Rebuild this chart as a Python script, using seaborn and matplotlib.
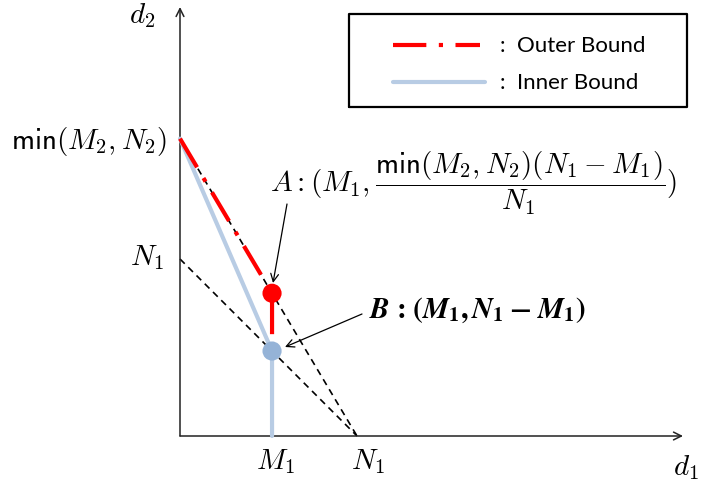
import numpy as np
import pandas as pd
import matplotlib
matplotlib.use("Agg")
import matplotlib.pyplot as plt
import seaborn as sns

# schematic values (same unit on both axes)
M1 = 2.6
N1 = 5.0
MIN_MN = 8.4
A_y = MIN_MN * (N1 - M1) / N1
B_y = N1 - M1

outer_x = [0, M1, M1]
outer_y = [MIN_MN, A_y, B_y]
inner_x = [0, M1, M1]
inner_y = [MIN_MN, B_y, 0]
guide1_x = [0, N1]
guide1_y = [MIN_MN, 0]
guide2_x = [0, N1]
guide2_y = [N1, 0]
pts = pd.DataFrame({"x": [M1, M1], "y": [A_y, B_y], "name": ["A", "B"]})

sns.set_style("white")
plt.rcParams["font.family"] = ["Lato", "DejaVu Sans"]
plt.rcParams["mathtext.fontset"] = "cm"
plt.rcParams["text.color"] = "black"

RED = "#ff0000"
BLUE_LINE = "#b8cce4"
BLUE_DOT = "#95b3d7"
DASHDOT = (0, (8, 3, 1, 3))

fig = plt.figure(figsize=(7.02, 4.85), dpi=100)
ax = fig.add_axes([0, 0, 1, 1])
px = 35.4  # pixels per unit
ax.set_xlim(-180 / px, (702 - 180) / px)
ax.set_ylim(-(485 - 437) / px, 437 / px)
ax.axis("off")

def P(x, y):
    # pixel position of the reference -> data coords
    return ((x - 180) / px, (437 - y) / px)

# axes with arrows
ax.annotate("", xy=P(683, 437), xytext=P(180, 437),
            arrowprops=dict(arrowstyle="->", lw=1.1, color="#222222", mutation_scale=14,
                            shrinkA=0, shrinkB=0))
ax.annotate("", xy=P(180, 8), xytext=P(180, 437),
            arrowprops=dict(arrowstyle="->", lw=1.1, color="#222222", mutation_scale=14,
                            shrinkA=0, shrinkB=0))

# guide lines
for gx, gy in [(guide1_x, guide1_y), (guide2_x, guide2_y)]:
    sns.lineplot(x=gx, y=gy, ax=ax, color="black", lw=1.2, estimator=None,
                 linestyle=(0, (4, 3)), sort=False, zorder=2)

# bounds
sns.lineplot(x=inner_x, y=inner_y, ax=ax, color=BLUE_LINE, lw=3, sort=False,
             estimator=None, zorder=3)
sns.lineplot(x=outer_x, y=outer_y, ax=ax, color=RED, lw=3, sort=False,
             estimator=None, linestyle=DASHDOT, zorder=4)

sns.scatterplot(data=pts, x="x", y="y", hue="name", palette=[RED, BLUE_DOT],
                s=190, edgecolor="none", legend=False, ax=ax, zorder=5)

# tick-like labels
fs = 21
ax.text(*P(167, 141), r"$\mathsf{min}(M_2,N_2)$", ha="right", va="center", fontsize=fs)
ax.text(*P(164, 258), r"$N_1$", ha="right", va="center", fontsize=fs)
ax.text(*P(142, 16), r"$d_2$", ha="center", va="center", fontsize=fs)
ax.text(*P(275, 462), r"$M_1$", ha="center", va="center", fontsize=fs)
ax.text(*P(368, 462), r"$N_1$", ha="center", va="center", fontsize=fs)
ax.text(*P(686, 468), r"$d_1$", ha="center", va="center", fontsize=fs)

# point annotations
ax.text(*P(270, 183), r"$A:(M_1,\dfrac{\mathsf{min}(M_2,N_2)(N_1-M_1)}{N_1})$",
        fontsize=fs, ha="left", va="center")
ax.annotate("", xy=P(273, 284), xytext=P(287, 205),
            arrowprops=dict(arrowstyle="->", lw=0.9, color="black", mutation_scale=14,
                            shrinkA=0, shrinkB=0))
b_label = (r"$\boldsymbol{B}\,\boldsymbol{:}\,\boldsymbol{(}\boldsymbol{M}_{\boldsymbol{1}}"
           r"\boldsymbol{,}\,\boldsymbol{N}_{\boldsymbol{1}}\;\boldsymbol{-}\;"
           r"\boldsymbol{M}_{\boldsymbol{1}}\boldsymbol{)}$")
ax.text(*P(369, 310), b_label, fontsize=fs, ha="left", va="center",
        math_fontfamily="stix")
ax.annotate("", xy=P(285, 348), xytext=P(362, 315),
            arrowprops=dict(arrowstyle="->", lw=0.9, color="black", mutation_scale=14,
                            shrinkA=0, shrinkB=0))

# legend box
x0, y0 = P(349, 108)
x1, y1 = P(687, 15)
ax.plot([x0, x1, x1, x0, x0], [y0, y0, y1, y1, y0], color="black", lw=1.6)
ax.plot(*zip(P(393, 46), P(480, 46)), color=RED, lw=3, linestyle=DASHDOT)
ax.plot(*zip(P(393, 83), P(485, 83)), color=BLUE_LINE, lw=3)
ax.text(*P(500, 46), ":  Outer Bound", fontsize=16, va="center", ha="left")
ax.text(*P(500, 83), ":  Inner Bound", fontsize=16, va="center", ha="left")

fig.savefig("out.png", dpi=100)
